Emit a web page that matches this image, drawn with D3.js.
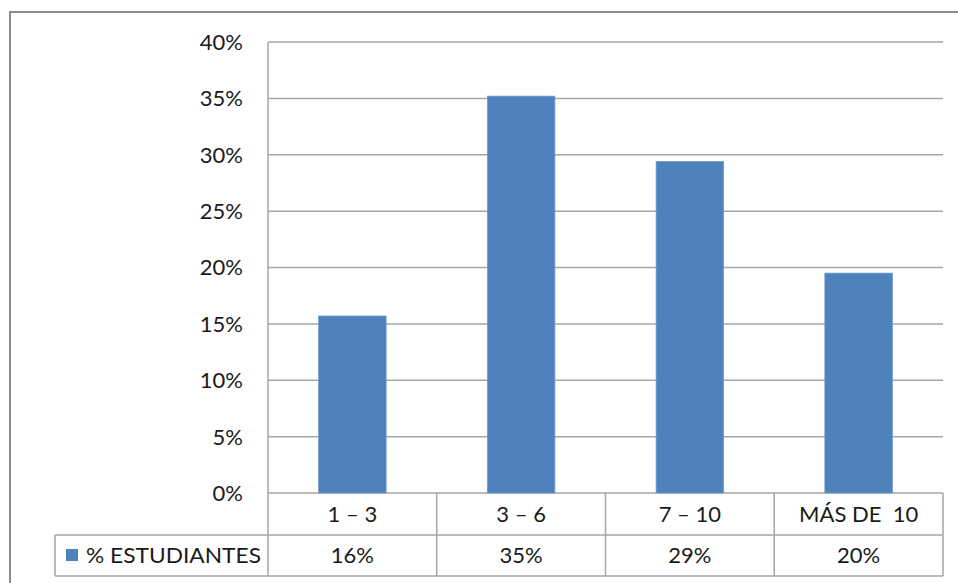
<!DOCTYPE html>
<html>
<head>
<meta charset="utf-8">
<script src="https://cdn.jsdelivr.net/npm/d3@7"></script>
<style>
  body { margin: 0; background: #fff; }
  text { font-family: Lato, "Open Sans", sans-serif; fill: #1a1a1a; }
</style>
</head>
<body>
<svg id="chart"></svg>
<script>
// data
const categories = ['1 – 3', '3 – 6', '7 – 10', 'MÁS DE  10'];
const values = [15.7, 35.2, 29.4, 19.5];
const labels = ['16%', '35%', '29%', '20%'];
const seriesName = '% ESTUDIANTES';
const yTicks = [0, 5, 10, 15, 20, 25, 30, 35, 40];

const w = 958, h = 583;
const plotL = 268, plotR = 943, plotT = 42, zeroY = 493;
const row1 = 535, row2 = 576, legendX = 55;
const gridColor = '#a6a6a6';
const barColor = '#4f81bd';

const svg = d3.select('#chart')
    .attr('width', w)
    .attr('height', h)

//outer frame
svg.append('rect')
    .attr('x', 10)
    .attr('y', 12)
    .attr('width', w + 20)
    .attr('height', h + 20)
    .attr('fill', 'none')
    .attr('stroke', '#8c8c8c')
    .attr('stroke-width', 2)

const y = d3.scaleLinear().domain([0, 40]).range([zeroY, plotT]);
const col = d3.scaleBand().domain(categories).range([plotL, plotR]);
const bar = d3.scaleBand().domain(categories).range([plotL, plotR])
    .paddingInner(0.6).paddingOuter(0.3);

//gridlines + tick labels
svg.append('g')
    .selectAll('line')
    .data(yTicks)
    .enter()
    .append('line')
    .attr('x1', plotL)
    .attr('x2', plotR)
    .attr('y1', d => y(d))
    .attr('y2', d => y(d))
    .attr('stroke', gridColor)
    .attr('stroke-width', 1.5)

svg.append('g')
    .selectAll('text')
    .data(yTicks)
    .enter()
    .append('text')
    .attr('x', 243)
    .attr('y', d => y(d))
    .attr('dy', '0.36em')
    .attr('text-anchor', 'end')
    .attr('font-size', '22px')
    .text(d => d + '%')

//bars
svg.append('g')
    .selectAll('rect')
    .data(values)
    .enter()
    .append('rect')
    .attr('x', (d, i) => bar(categories[i]))
    .attr('width', bar.bandwidth())
    .attr('y', d => y(d))
    .attr('height', d => y(0) - y(d))
    .attr('fill', barColor)
    .attr('stroke', '#6f9bd0')
    .attr('stroke-width', 0.8)

//data table
const table = svg.append('g')
    .attr('stroke', gridColor)
    .attr('stroke-width', 1.5)

table.append('line').attr('x1', plotL).attr('x2', plotL).attr('y1', plotT).attr('y2', row2)
table.append('line').attr('x1', legendX).attr('x2', plotR).attr('y1', row1).attr('y2', row1)
table.append('line').attr('x1', legendX).attr('x2', plotR).attr('y1', row2).attr('y2', row2)
table.append('line').attr('x1', legendX).attr('x2', legendX).attr('y1', row1).attr('y2', row2)

table.selectAll('.sep')
    .data(categories)
    .enter()
    .append('line')
    .attr('class', 'sep')
    .attr('x1', d => col(d) + col.bandwidth())
    .attr('x2', d => col(d) + col.bandwidth())
    .attr('y1', zeroY)
    .attr('y2', row2)

svg.append('g')
    .selectAll('text')
    .data(categories)
    .enter()
    .append('text')
    .attr('x', d => col(d) + col.bandwidth() / 2)
    .attr('y', (zeroY + row1) / 2)
    .attr('dy', '0.36em')
    .attr('text-anchor', 'middle')
    .attr('font-size', '22px')
    .style('white-space', 'pre')
    .text(d => d)

svg.append('g')
    .selectAll('text')
    .data(labels)
    .enter()
    .append('text')
    .attr('x', (d, i) => col(categories[i]) + col.bandwidth() / 2)
    .attr('y', (row1 + row2) / 2)
    .attr('dy', '0.36em')
    .attr('text-anchor', 'middle')
    .attr('font-size', '22px')
    .text(d => d)

//legend key
svg.append('rect')
    .attr('x', 66)
    .attr('y', 549)
    .attr('width', 12)
    .attr('height', 12)
    .attr('fill', barColor)

svg.append('text')
    .attr('x', 86)
    .attr('y', (row1 + row2) / 2)
    .attr('dy', '0.36em')
    .attr('font-size', '22px')
    .attr('textLength', 175)
    .attr('lengthAdjust', 'spacingAndGlyphs')
    .text(seriesName)
</script>
</body>
</html>
